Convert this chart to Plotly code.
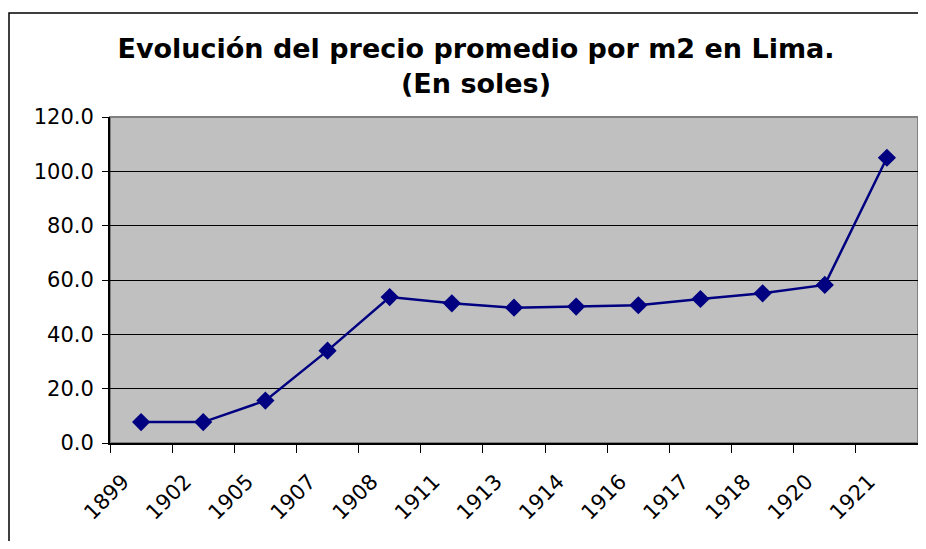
import plotly.graph_objects as go

years = ["1899", "1902", "1905", "1907", "1908", "1911", "1913", "1914",
         "1916", "1917", "1918", "1920", "1921"]
precio = [7.7, 7.7, 15.6, 34.0, 53.7, 51.4, 49.8, 50.2, 50.7, 53.0, 55.1, 58.2, 105.0]

# page has an 8px body margin; coordinates below are figure coordinates
W, H = 910, 533
L, R, T, B = 102, 0, 109, 98
pw, ph = W - L - R, H - T - B

def px(x):
    return (x - L) / pw

def py(y):
    return (H - B - y) / ph

fig = go.Figure()
fig.add_trace(go.Scatter(
    x=years, y=precio, mode="lines+markers",
    line=dict(color="#000080", width=2.5),
    marker=dict(symbol="diamond", size=14, color="#000080"),
    showlegend=False,
))

border_path = "M {x0},{yb} L {x0},{yt} L {xr},{yt}".format(
    x0=px(1), yb=py(600), yt=py(5), xr=px(1000))

fig.update_layout(
    width=W, height=H,
    margin=dict(l=L, r=R, t=T, b=B),
    paper_bgcolor="white",
    plot_bgcolor="#C0C0C0",
    font=dict(family="DejaVu Sans", size=20, color="black"),
    title=dict(
        text="<b>Evolución del precio promedio por m2 en Lima.<br>(En soles)</b>",
        x=468 / W, xanchor="center", xref="container",
        y=1 - 50 / H, yanchor="top", yref="container",
        font=dict(family="DejaVu Sans", size=27, color="black"),
    ),
    xaxis=dict(
        type="category", tickson="boundaries", tickangle=-45,
        range=[-0.5, len(years) - 0.5],
        ticks="outside", ticklen=8, tickcolor="black", tickwidth=1,
        showline=True, linecolor="black", linewidth=2,
        showgrid=False, zeroline=False,
        tickfont=dict(size=21), ticklabelstandoff=16, ticklabelshift=-18,
    ),
    yaxis=dict(
        range=[0, 120], dtick=20, tickformat=".1f",
        ticks="outside", ticklen=6, tickcolor="black",
        showline=True, linecolor="black", linewidth=2,
        showgrid=True, gridcolor="black", gridwidth=1,
        zeroline=False, tickfont=dict(size=21), ticklabelstandoff=4,
    ),
    shapes=[
        dict(type="rect", xref="paper", yref="paper", x0=0, x1=1, y0=0, y1=1,
             line=dict(color="#808080", width=2), layer="below"),
        dict(type="path", xref="paper", yref="paper", path=border_path,
             line=dict(color="black", width=1.5), layer="below"),
    ],
)

fig.write_html("out.html")
